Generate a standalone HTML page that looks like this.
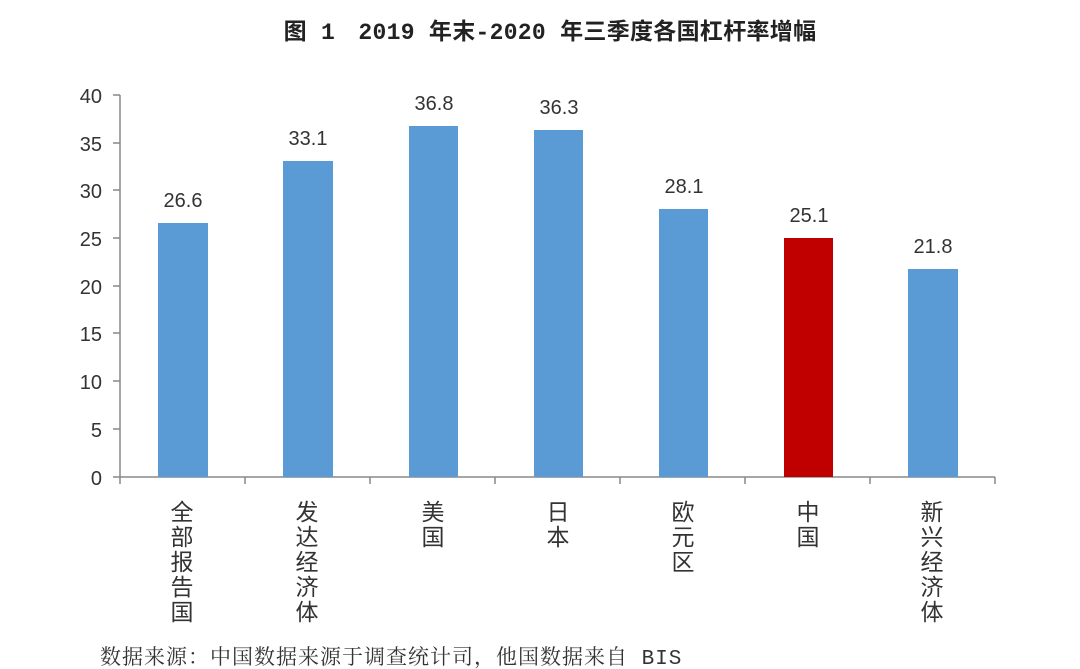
<!DOCTYPE html>
<html><head><meta charset="utf-8"><style>
body{margin:0;background:#fff;}
svg{display:block}
</style></head><body>
<svg width="1080" height="669" xmlns="http://www.w3.org/2000/svg">
<rect width="1080" height="669" fill="#fff"/>
<text x="550" y="39" text-anchor="middle" font-family="'Liberation Mono','Noto Sans CJK SC',monospace" font-weight="bold" font-size="23" letter-spacing="0.3" fill="#222">图 1　2019 年末-2020 年三季度各国杠杆率增幅</text>
<g stroke="#888" stroke-width="1.5" fill="none">
<line x1="120" y1="95" x2="120" y2="477"/>
<line x1="120" y1="477" x2="995" y2="477"/>
<line x1="113" y1="95" x2="120" y2="95"/><line x1="113" y1="143" x2="120" y2="143"/>
<line x1="113" y1="190" x2="120" y2="190"/><line x1="113" y1="238" x2="120" y2="238"/>
<line x1="113" y1="286" x2="120" y2="286"/><line x1="113" y1="333" x2="120" y2="333"/>
<line x1="113" y1="381" x2="120" y2="381"/><line x1="113" y1="429" x2="120" y2="429"/>
<line x1="113" y1="477" x2="120" y2="477"/>
<line x1="120" y1="477" x2="120" y2="484"/><line x1="245" y1="477" x2="245" y2="484"/>
<line x1="370" y1="477" x2="370" y2="484"/><line x1="495" y1="477" x2="495" y2="484"/>
<line x1="620" y1="477" x2="620" y2="484"/><line x1="745" y1="477" x2="745" y2="484"/>
<line x1="870" y1="477" x2="870" y2="484"/><line x1="995" y1="477" x2="995" y2="484"/>
</g>
<g font-family="'Liberation Sans',sans-serif" font-size="20" fill="#333" text-anchor="end">
<text x="102" y="103">40</text><text x="102" y="151">35</text><text x="102" y="198">30</text>
<text x="102" y="246">25</text><text x="102" y="294">20</text><text x="102" y="341">15</text>
<text x="102" y="389">10</text><text x="102" y="437">5</text><text x="102" y="485">0</text>
</g>
<g fill="#5b9bd5">
<rect x="158" y="223" width="50" height="254"/>
<rect x="283" y="161" width="50" height="316"/>
<rect x="409" y="126" width="49" height="351"/>
<rect x="534" y="130" width="49" height="347"/>
<rect x="659" y="209" width="49" height="268"/>
<rect x="908" y="269" width="50" height="208"/>
</g>
<rect x="784" y="238" width="49" height="239" fill="#c00000"/>
<g font-family="'Liberation Sans',sans-serif" font-size="20" fill="#333" text-anchor="middle">
<text x="183" y="207">26.6</text><text x="308" y="145">33.1</text><text x="434" y="110">36.8</text>
<text x="559" y="114">36.3</text><text x="684" y="193">28.1</text><text x="809" y="222">25.1</text>
<text x="933" y="253">21.8</text>
</g>
<g font-family="'Liberation Sans','Noto Sans CJK SC',sans-serif" font-size="23" fill="#333" text-anchor="middle">
<text x="182" y="520">全</text><text x="182" y="545">部</text><text x="182" y="570">报</text><text x="182" y="595">告</text><text x="182" y="620">国</text>
<text x="307" y="520">发</text><text x="307" y="545">达</text><text x="307" y="570">经</text><text x="307" y="595">济</text><text x="307" y="620">体</text>
<text x="433" y="520">美</text><text x="433" y="545">国</text>
<text x="558" y="520">日</text><text x="558" y="545">本</text>
<text x="683" y="520">欧</text><text x="683" y="545">元</text><text x="683" y="570">区</text>
<text x="808" y="520">中</text><text x="808" y="545">国</text>
<text x="932" y="520">新</text><text x="932" y="545">兴</text><text x="932" y="570">经</text><text x="932" y="595">济</text><text x="932" y="620">体</text>
</g>
<text x="100" y="664" font-family="'Liberation Mono','Noto Serif CJK SC',serif" font-size="21" letter-spacing="1" fill="#333">数据来源：中国数据来源于调查统计司，他国数据来自 BIS</text>
</svg>
</body></html>
